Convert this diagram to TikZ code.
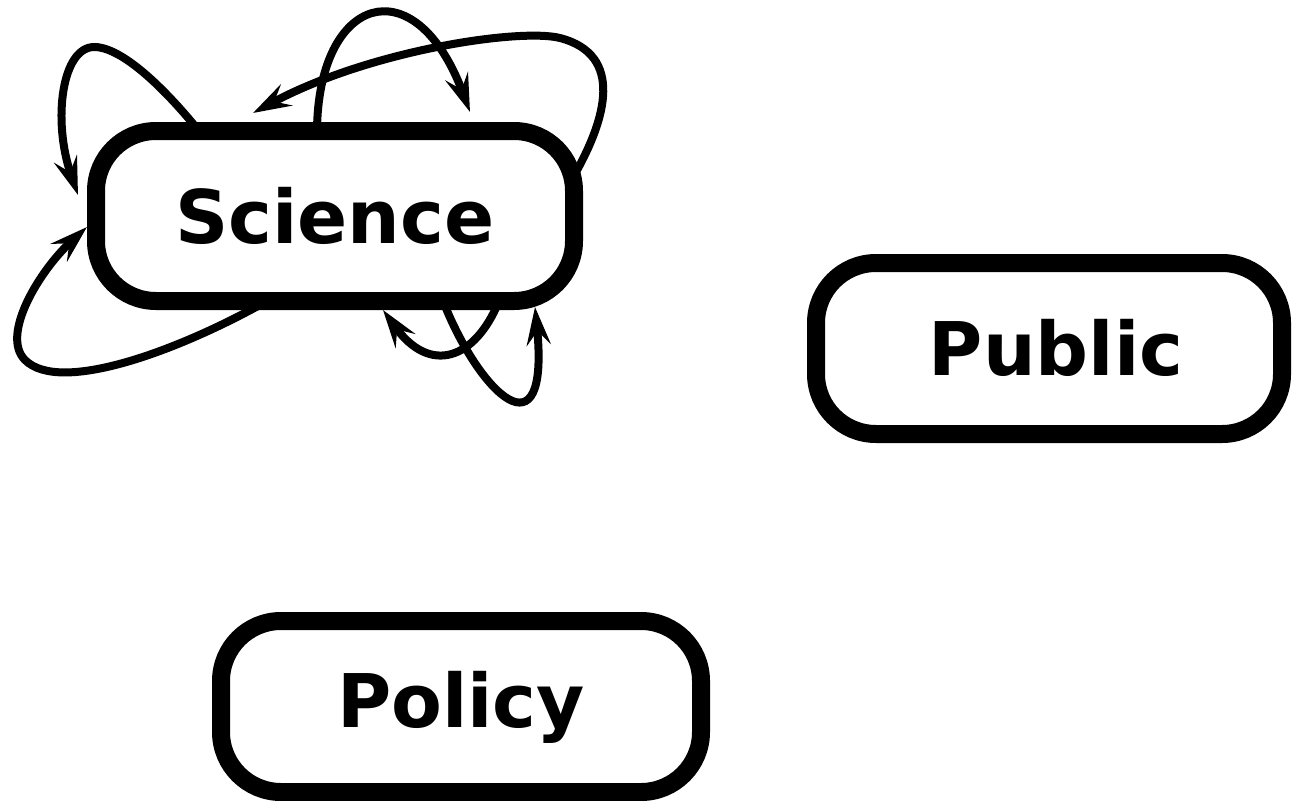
\documentclass[tikz,border=0pt]{standalone}
\usepackage{fontspec}
\setmainfont{DejaVu Sans}
\usetikzlibrary{arrows.meta}
\begin{document}
\begin{tikzpicture}[x=1pt,y=-1pt,
  box/.style={draw=black, line width=18pt, rounded corners=60pt, inner sep=0pt,
    font=\fontsize{74}{80}\selectfont\bfseries, text height=54pt, text depth=0pt},
  selfloop/.style={line width=8pt, line cap=round,
    -{Stealth[length=38pt,width=24pt,inset=14pt]}}]
\useasboundingbox (0,0) rectangle (1292,800);
\node[box, minimum width=478pt, minimum height=170pt] (sci) at (335,216) {Science};
\node[box, minimum width=466pt, minimum height=171pt] (pub) at (1049,348.5) {\hspace*{14pt}Public};
\node[box, minimum width=480pt, minimum height=171pt, text depth=12pt] (pol) at (461,706.5) {Policy};
% loop start points on the Science box and tips
\coordinate (a1) at (199,131); \coordinate (t1) at (78,195);
\coordinate (a2) at (267,301); \coordinate (t2) at (87,227);
\coordinate (a3) at (317,131); \coordinate (t3) at (470,112);
\coordinate (a4) at (576,172); \coordinate (t4) at (253,113);
\coordinate (a5) at (499,301); \coordinate (t5) at (383,310);
\coordinate (a6) at (443,301); \coordinate (t6) at (535,307);
\draw[selfloop] (a1) .. controls (170,95) and (125,48) .. (95,47) .. controls (62,46) and (52,120) .. (t1);
\draw[selfloop] (a2) .. controls (180,350) and (60,395) .. (25,360) .. controls (0,335) and (40,270) .. (t2);
\draw[selfloop] (a3) .. controls (318,-5) and (415,-35) .. (t3);
\draw[selfloop] (a4) .. controls (605,120) and (625,55) .. (560,38) .. controls (520,28) and (370,50) .. (t4);
\draw[selfloop] (a5) .. controls (475,360) and (430,375) .. (t5);
\draw[selfloop] (a6) .. controls (480,395) and (550,460) .. (t6);
\end{tikzpicture}
\end{document}
